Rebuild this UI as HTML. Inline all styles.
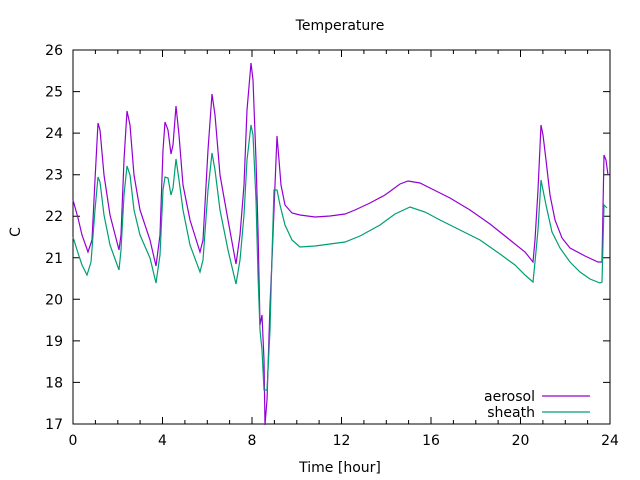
<!DOCTYPE html>
<html><head><style>body{margin:0;background:#fff}svg{display:block}text{font-family:"DejaVu Sans",sans-serif;font-size:14px;fill:#000}</style></head>
<body>
<svg width="640" height="480" xmlns="http://www.w3.org/2000/svg">
<rect x="73" y="50" width="537" height="374" fill="none" stroke="#000" stroke-width="1"/>
<g stroke="#000" stroke-width="1">
<path d="M95.4,424v-4M117.8,424v-4M140.1,424v-4M184.9,424v-4M207.3,424v-4M229.6,424v-4M274.4,424v-4M296.8,424v-4M319.1,424v-4M363.9,424v-4M386.3,424v-4M408.6,424v-4M453.4,424v-4M475.8,424v-4M498.1,424v-4M542.9,424v-4M565.3,424v-4M587.6,424v-4
M95.4,50v4M117.8,50v4M140.1,50v4M184.9,50v4M207.3,50v4M229.6,50v4M274.4,50v4M296.8,50v4M319.1,50v4M363.9,50v4M386.3,50v4M408.6,50v4M453.4,50v4M475.8,50v4M498.1,50v4M542.9,50v4M565.3,50v4M587.6,50v4
M162.5,424v-7M252,424v-7M341.5,424v-7M431,424v-7M520.5,424v-7
M162.5,50v7M252,50v7M341.5,50v7M431,50v7M520.5,50v7
M73,91.6h7M73,133.1h7M73,174.7h7M73,216.2h7M73,257.8h7M73,299.3h7M73,340.9h7M73,382.4h7
M610,91.6h-7M610,133.1h-7M610,174.7h-7M610,216.2h-7M610,257.8h-7M610,299.3h-7M610,340.9h-7M610,382.4h-7"/>
</g>
<g text-anchor="end">
<text x="63" y="55">26</text><text x="63" y="96.6">25</text><text x="63" y="138.1">24</text><text x="63" y="179.7">23</text><text x="63" y="221.2">22</text><text x="63" y="262.8">21</text><text x="63" y="304.3">20</text><text x="63" y="345.9">19</text><text x="63" y="387.4">18</text><text x="63" y="429">17</text>
</g>
<g text-anchor="middle">
<text x="73" y="445">0</text><text x="162.5" y="445">4</text><text x="252" y="445">8</text><text x="341.5" y="445">12</text><text x="431" y="445">16</text><text x="520.5" y="445">20</text><text x="610" y="445">24</text>
<text x="340" y="472">Time [hour]</text>
<text x="340" y="30">Temperature</text>
<text x="20" y="242" transform="rotate(-90 15 237)">C</text>
</g>
<polyline fill="none" stroke="#9400d3" stroke-width="1.2" points="73,200 78,218 82,235 88,252 92,240 95,180 98,123 100,130 104,175 110,215 119,250 121,235 124,160 127,111 130,125 134,175 140,210 150,240 156,266 160,235 163,150 165,122 168,130 171,154 173,145 176,106 179,135 183,185 190,220 200,252 203,240 208,150 212,94 215,115 220,175 228,220 236,264 240,235 244,185 247,110 251,63 253,80 256,160 258,230 260,325 262,315 264,360 265,425 267,400 270,305 272,260 275,185 277,136 279,160 281,185 285,205 292,213 300,215 315,217 330,216 345,214 355,210 370,203 385,195 400,184 408,181 420,183 430,188 450,198 470,210 490,224 510,240 525,252 533,262 535,240 538,190 541,125 543,135 546,160 550,195 555,220 562,238 570,248 585,256 598,262 602,262 604,155 606,160 608,175"/>
<polyline fill="none" stroke="#009e73" stroke-width="1.2" points="73,237 78,253 82,265 87,275 91,262 95,210 98,177 100,182 104,215 110,245 119,270 121,250 124,195 127,166 130,175 134,210 140,235 150,258 156,283 160,255 163,190 165,177 168,178 171,195 173,188 176,159 179,180 183,210 190,245 200,272 203,260 208,190 212,153 215,170 220,210 228,250 236,284 240,260 244,215 247,160 251,125 253,135 256,200 258,275 260,330 262,350 264,390 267,390 270,330 272,255 274,190 277,190 280,205 285,225 292,240 300,247 315,246 330,244 345,242 360,236 380,225 395,214 410,207 425,212 440,220 460,230 480,240 500,254 515,265 525,275 533,282 535,262 538,230 541,180 543,190 546,205 552,232 560,248 570,262 580,272 590,279 600,283 602,282 604,205 607,208"/>
<text x="535" y="401" text-anchor="end">aerosol</text>
<line x1="542" y1="396" x2="590" y2="396" stroke="#9400d3" stroke-width="1.2"/>
<text x="535" y="417" text-anchor="end">sheath</text>
<line x1="542" y1="412" x2="590" y2="412" stroke="#009e73" stroke-width="1.2"/>
</svg>
</body></html>
